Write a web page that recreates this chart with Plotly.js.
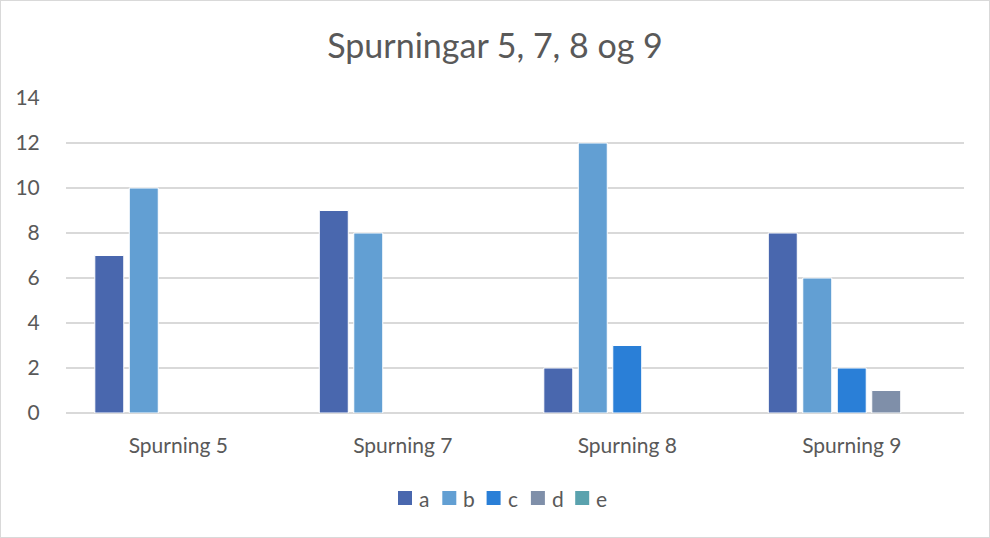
<!DOCTYPE html>
<html><head><meta charset="utf-8">
<script src="https://cdn.plot.ly/plotly-3.0.1.min.js"></script>
<style>body{margin:0;background:#fff}#chart{width:988px;height:536px;border:1px solid #d9d9d9}</style>
</head><body><div id="chart"></div>
<script>
const categories = ["Spurning 5", "Spurning 7", "Spurning 8", "Spurning 9"];
const seriesNames = ["a", "b", "c", "d", "e"];
const valuesA = [7, 9, 2, 8];
const valuesB = [10, 8, 12, 6];
const valuesC = [0, 0, 3, 2];
const valuesD = [0, 0, 0, 1];
const valuesE = [0, 0, 0, 0];
const colors = ["#4967AE", "#629FD3", "#2A7FD7", "#7F8FA9", "#5AA2AE"];
const allValues = [valuesA, valuesB, valuesC, valuesD, valuesE];

const traces = allValues.map((v, i) => ({
  type: "bar", name: seriesNames[i], x: categories, y: v,
  marker: {color: colors[i], line: {color: "#ffffff", width: v.map(val => val ? 1 : 0)}},
  hoverinfo: "skip", showlegend: false
}));

const font = "Lato, 'Open Sans', sans-serif";
const txt = "#595959";

// custom legend (swatch + label), laid out in paper coordinates
const plotL = 66, plotW = 898, plotB = 413, plotH = 315;
const toPX = px => (px - plotL) / plotW;
const toPY = py => (plotB - py) / plotH;
const legStart = 398, legStep = 44.3, sw = 14, legMid = 498;
const shapes = [], annotations = [];
seriesNames.forEach((n, i) => {
  const x0 = legStart + i * legStep;
  shapes.push({type: "rect", xref: "paper", yref: "paper",
    x0: toPX(x0), x1: toPX(x0 + sw), y0: toPY(legMid + sw / 2), y1: toPY(legMid - sw / 2),
    fillcolor: colors[i], line: {width: 0}});
  annotations.push({xref: "paper", yref: "paper", x: toPX(x0 + sw + 5), y: toPY(legMid),
    xanchor: "left", yanchor: "middle", text: n, showarrow: false,
    font: {family: font, size: 21, color: txt}});
});

Plotly.newPlot("chart", traces, {
  width: 988, height: 536,
  margin: {l: 65, r: 25, t: 97, b: 124},
  paper_bgcolor: "#fff", plot_bgcolor: "#fff",
  title: {text: "Spurningar 5, 7, 8 og 9", font: {family: font, size: 34, color: txt}, x: 0.5, xanchor: "center", y: 0.915, yanchor: "middle"},
  barmode: "group", bargap: 0.232, bargroupgap: 0.16,
  xaxis: {tickfont: {family: font, size: 21, color: txt}, showline: false, ticks: "outside", ticklen: 14, tickcolor: "rgba(0,0,0,0)", showgrid: false},
  yaxis: {range: [0, 14], dtick: 2, tickfont: {family: font, size: 21, color: txt}, gridcolor: "#d9d9d9", gridwidth: 1.3,
          zeroline: true, zerolinecolor: "#d9d9d9", zerolinewidth: 1.3, ticks: "outside", ticklen: 21, tickcolor: "rgba(0,0,0,0)", automargin: false},
  showlegend: false,
  shapes: shapes, annotations: annotations
}, {displayModeBar: false, staticPlot: true});
</script></body></html>
